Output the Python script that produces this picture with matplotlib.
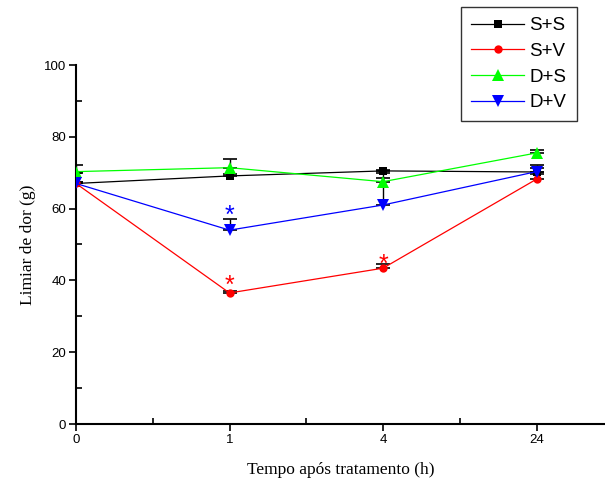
import matplotlib
matplotlib.use("Agg")
import matplotlib.pyplot as plt
import numpy as np
from matplotlib.ticker import MultipleLocator

# Data
time_labels = ["0", "1", "4", "24"]
ss = [67.0, 69.1, 70.5, 70.2]
sv = [67.0, 36.5, 43.4, 68.2]
ds = [70.3, 71.4, 67.5, 75.5]
dv = [67.0, 54.0, 61.0, 70.3]
ss_err = [2.8, 0.6, 0.3, 2.0]
sv_err = [0.5, 0.6, 1.2, 1.3]
ds_err = [1.8, 2.4, 1.0, 0.8]
dv_err = [0.5, 3.0, 9.0, 1.0]
labels = ["S+S", "S+V", "D+S", "D+V"]
colors = ["black", "red", "#00ff00", "blue"]
markers = ["s", "o", "^", "v"]
sizes = [6, 6, 8, 8]
# significance marks (x index, y, color)
stars_x = [1, 1, 2]
stars_y = [54.5, 35.2, 41.0]
stars_c = ["blue", "red", "red"]

fig = plt.figure(figsize=(6.05, 4.86), dpi=100)
ax = fig.add_axes([76/605, 1-424/486, 1-76/605, (424-65)/486])

x = np.arange(len(time_labels))
series = [ss, sv, ds, dv]
errs = [ss_err, sv_err, ds_err, dv_err]
handles = []
for s, e in zip(series, errs):
    ax.errorbar(x, s, yerr=[np.zeros(len(e)), e], fmt="none", ecolor="black",
                elinewidth=1.0, capsize=5, capthick=1.2, zorder=2)
for s, lab, c, m, ms in zip(series, labels, colors, markers, sizes):
    h, = ax.plot(x, s, color=c, marker=m, markersize=ms, linewidth=0.9,
                 markeredgewidth=0, label=lab, zorder=3)
    handles.append(h)

for sx, sy, sc in zip(stars_x, stars_y, stars_c):
    ax.text(sx, sy, "*", color=sc, ha="center", va="bottom",
            fontsize=18, family="Liberation Sans")

ax.set_xlim(0, (605-76)/153.5)
ax.set_ylim(0, 100)
ax.set_xticks(x)
ax.set_xticklabels(time_labels)
ax.xaxis.set_minor_locator(MultipleLocator(0.5))
ax.yaxis.set_major_locator(MultipleLocator(20))
ax.yaxis.set_minor_locator(MultipleLocator(10))
for sp in ["top", "right"]:
    ax.spines[sp].set_visible(False)
ax.spines["left"].set_linewidth(1.5)
ax.spines["bottom"].set_linewidth(1.5)
ax.tick_params(which="major", direction="out", length=5, width=1.2,
               labelsize=9.5, pad=2)
ax.tick_params(which="minor", direction="in", length=4, width=1.2)
for t in ax.get_xticklabels() + ax.get_yticklabels():
    t.set_family("Liberation Sans")
ax.set_xlabel("Tempo após tratamento (h)", family="Liberation Serif",
              fontsize=12.5, labelpad=12)
ax.set_ylabel("Limiar de dor (g)", family="Liberation Serif",
              fontsize=12.5, labelpad=6)

leg = fig.legend(handles=handles, loc="upper left",
                 bbox_to_anchor=(461/605, 1-7/486), frameon=True,
                 prop={"family": "Liberation Sans", "size": 13.5},
                 handlelength=2.8, labelspacing=0.45, borderpad=0.55,
                 handletextpad=0.3, fancybox=False, borderaxespad=0)
leg.get_frame().set_edgecolor("black")
leg.get_frame().set_linewidth(1.0)

fig.savefig("out.png", dpi=100)
